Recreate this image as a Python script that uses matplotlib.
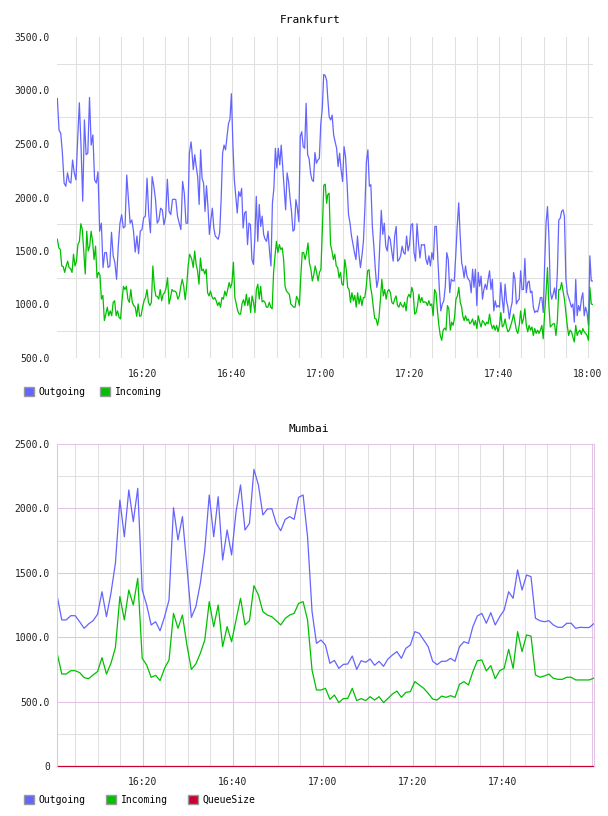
import numpy as np
import matplotlib
matplotlib.use('Agg')
import matplotlib.pyplot as plt
from matplotlib.patches import Patch
from matplotlib.ticker import MultipleLocator, FuncFormatter

# Frankfurt samples come in four stretches, times are minutes after 16:00
fra_spans = [(0.75, 30.8), (30.97, 61.27), (61.5, 91.61), (91.84, 121.05)]

fra_out_1 = [2925, 2630, 2600, 2414, 2135, 2105, 2230, 2150, 2135, 2350,
             2230, 2165, 2540, 2885, 2475, 1965, 2725, 2400, 2414, 2935,
             2490, 2585, 2165, 2135, 2240, 1685, 1760, 1345, 1485, 1485,
             1345, 1360, 1675, 1455, 1390, 1235, 1545, 1760, 1840, 1715,
             1730, 2210, 1980, 1760, 1790, 1685, 1490, 1640, 1475, 1685,
             1700, 1810, 1825, 2180, 1840, 1670, 2195, 2105, 1980, 1760,
             1790, 1900, 1885, 1745, 1825, 2170, 1870, 1840, 1980, 1985,
             1980, 1825, 1760, 1700, 2150, 2040, 1760, 1760, 2414, 2520]
fra_out_2 = [2445, 2260, 2400, 2290, 2195, 1935, 2445, 2180, 2135,
             1870, 2110, 1915, 1655, 1790, 1900, 1715, 1640, 1625, 1610,
             1670, 1980, 2414, 2490, 2445, 2570, 2690, 2730, 2970, 2505,
             2165, 2010, 1855, 2055, 2010, 2085, 1715, 1855, 1870, 1560,
             1760, 1745, 1420, 1375, 1625, 2010, 1590, 1935, 1730, 1825,
             1655, 1610, 1590, 1685, 1500, 1360, 1950, 2085, 2460, 2275,
             2460, 2305, 2490, 2290, 2105, 1885, 2230, 2150, 1995, 1870,
             1685, 1700, 1980, 1900, 1775, 2570, 2615, 2475, 2460, 2880,
             2400, 2365, 2230, 2165, 2150, 2420, 2320, 2350, 2365, 2690,
             2830, 3150, 3140, 3095]
fra_out_3 = [2940, 2755, 2725, 2770, 2585, 2520, 2460, 2290, 2414, 2260,
             2150, 2475, 2380, 2135, 1840, 1760, 1640, 1560, 1485, 1420,
             1640, 1470, 1345, 1455, 1590, 1900, 2335, 2445, 2105, 2120,
             1730, 1545, 1330, 1160, 1235, 1560, 1880, 1655, 1760, 1545,
             1500, 1640, 1610, 1500, 1405, 1640, 1730, 1405, 1420, 1455,
             1545, 1485, 1470, 1640, 1500, 1560, 1745, 1755, 1485, 1405,
             1755, 1575, 1435, 1560, 1555, 1560, 1420, 1375, 1455, 1360,
             1485, 1420, 1730, 1730, 1420, 1145, 940, 1005, 1035, 1170,
             1485, 1420, 1110, 1235, 1220, 1220, 1455, 1730, 1950, 1640,
             1390]
fra_out_4 = [1345, 1250, 1360, 1265, 1235, 1220, 1110, 1330, 1160, 1330,
             990, 1300, 1170, 1265, 1050, 1140, 1190, 1140, 1235, 1315,
             1140, 1235, 940, 1035, 975, 990, 975, 1205, 1050, 925,
             1190, 1035, 975, 865, 960, 1020, 1300, 1235, 1005, 1035,
             1050, 1315, 1140, 1140, 1430, 1110, 1205, 1220, 1110, 1125,
             975, 925, 940, 930, 990, 1065, 1065, 925, 1375, 1760,
             1915, 1640, 1125, 1050, 1095, 1155, 1050, 1300, 1790, 1805,
             1870, 1885, 1825, 1250, 1110, 1065, 1020, 975, 1005, 835,
             1235, 895, 990, 940, 1050, 1110, 895, 975, 925, 805,
             1455, 1220, 1220]

fra_in_1 = [1610, 1530, 1515, 1360, 1355, 1300, 1360, 1405, 1345, 1335,
            1300, 1470, 1360, 1405, 1560, 1590, 1755, 1700, 1485, 1285,
            1685, 1500, 1545, 1685, 1590, 1420, 1545, 1250, 1300, 1275,
            1050, 1085, 850, 910, 975, 895, 940, 895, 1020, 1035,
            895, 940, 880, 865, 1035, 1170, 1140, 1170, 1050, 1020,
            1140, 1020, 990, 975, 890, 1005, 890, 895, 975, 1035,
            1065, 1140, 1020, 990, 1020, 1360, 1170, 1080, 1075, 1050,
            1140, 1035, 1095, 1110, 1155, 1250, 1005, 1065, 1140, 1125,
            1125, 1110, 1050, 1080, 1170, 1235, 1170, 1045, 1170, 1360,
            1470, 1440]
fra_in_2 = [1420, 1345, 1500, 1375, 1315, 1190, 1435, 1315, 1330, 1285,
            1330, 1110, 1080, 1125, 1075, 1050, 1065, 1035, 990, 1020,
            975, 1065, 1050, 1125, 1080, 1140, 1205, 1155, 1205, 1395,
            1065, 1005, 940, 910, 910, 1005, 1045, 990, 1095, 990,
            1065, 925, 1080, 1020, 925, 1140, 1190, 1050, 1170, 1025,
            1035, 1020, 975, 975, 1020, 975, 960, 1300, 1455, 1590,
            1485, 1560, 1515, 1530, 1420, 1170, 1125, 1110, 1095, 1005,
            990, 975, 975, 1075, 1050, 990, 1270, 1485, 1485, 1420,
            1485, 1575, 1385, 1330, 1220, 1275, 1360, 1300, 1220, 1300,
            1330, 1700, 2115, 2125, 1945]
fra_in_3 = [2025, 2040, 1560, 1500, 1420, 1470, 1360, 1345, 1250, 1300,
            1190, 1180, 1420, 1330, 1160, 1140, 1020, 1110, 1035, 1085,
            975, 1110, 1005, 1080, 990, 1065, 1065, 1160, 1315, 1325,
            1170, 1095, 975, 870, 865, 805, 880, 1050, 1235, 1080,
            1140, 1050, 1125, 1140, 1110, 1020, 1005, 1050, 1080, 990,
            975, 1020, 990, 975, 1020, 940, 1065, 1095, 1065, 1160,
            1110, 910, 925, 990, 1095, 1020, 1065, 1020, 1025, 1020,
            990, 1035, 990, 1005, 895, 1140, 1110, 940, 805, 710,
            665, 760, 780, 760, 990, 960, 760, 835, 805, 880,
            1050, 1080, 1160, 1020, 975]
fra_in_4 = [895, 850, 895, 850, 865, 820, 835, 865, 805, 850,
            775, 895, 835, 790, 850, 835, 805, 835, 820, 910,
            820, 775, 805, 760, 805, 745, 805, 925, 790, 805,
            865, 790, 745, 760, 805, 850, 910, 835, 760, 730,
            805, 940, 820, 865, 960, 805, 745, 805, 760, 790,
            710, 775, 730, 760, 730, 760, 805, 680, 925, 1110,
            1345, 990, 790, 805, 820, 820, 710, 850, 1140, 1140,
            1205, 1125, 1050, 925, 805, 710, 760, 745, 695, 650,
            805, 710, 745, 760, 720, 775, 745, 730, 710, 665,
            1160, 1005, 1000]

# Mumbai: one sample per minute
mum_span = (0.96, 120.25)
mum_out = [1315, 1134, 1134, 1167, 1167, 1120, 1069, 1103, 1128, 1178,
           1353, 1159, 1341, 1574, 2065, 1780, 2143, 1897, 2156, 1366,
           1250, 1095, 1120, 1050, 1159, 1289, 2005, 1755, 1936, 1547,
           1154, 1237, 1418, 1677, 2104, 1780, 2091, 1599, 1832, 1638,
           1975, 2182, 1832, 1884, 2303, 2182, 1949, 1995, 1998, 1884,
           1827, 1915, 1936, 1915, 2086,
           2104, 1780, 1200, 952, 978, 939, 797, 820, 758, 789,
           792, 854, 750, 818, 805, 831, 782, 813, 774, 831,
           862, 888, 836, 914, 939, 1043, 1030, 978, 926, 813,
           787, 813, 813, 836, 813, 926, 965, 952, 1082, 1165,
           1185, 1108, 1190, 1095, 1159, 1211, 1353, 1302, 1522, 1366,
           1483, 1470, 1147, 1128, 1120, 1128, 1095, 1077, 1077, 1108,
           1108, 1069, 1077, 1075, 1075, 1103]
mum_in = [870, 714, 714, 740, 740, 725, 686, 678, 707, 733,
          841, 714, 797, 919, 1315, 1134, 1366, 1250, 1457, 836,
          784, 688, 704, 663, 758, 823, 1185, 1069, 1172, 939,
          750, 792, 875, 978, 1276, 1082, 1250, 926, 1082, 965,
          1134, 1302, 1095, 1128, 1400, 1328, 1198, 1172, 1159, 1128,
          1095, 1146, 1172, 1185, 1263,
          1276, 1134, 745, 590, 590, 603, 518, 551, 492, 523,
          525, 603, 508, 523, 508, 538, 512, 538, 492, 525,
          559, 582, 533, 572, 577, 655, 629, 603, 564, 520,
          512, 543, 533, 546, 533, 634, 655, 629, 732, 818,
          823, 738, 779, 678, 740, 758, 906, 758, 1043, 888,
          1017, 1009, 707, 689, 699, 714, 681, 673, 673, 689,
          689, 668, 668, 668, 668, 681]
mum_queue = [0] * 121

COL_OUT = '#6464ff'
COL_IN = '#00c000'
COL_Q = '#cc0033'
GRID = '#e0e0e0'
PINK = '#e4c4e4'
MONO = 'DejaVu Sans Mono'
GRID_LW = 0.75

plt.rcParams['font.family'] = MONO


def hhmm(m, pos):
    m = int(round(m))
    return f"{16 + m // 60}:{m % 60:02d}"


def hhmm_no_end(m, pos):
    # the Mumbai panel stops right at 18:00 and shows no label there
    return '' if m >= 120 else hhmm(m, pos)


def yfmt(v, pos):
    return '0' if v == 0 else f'{v:.1f}'


def seg_times(spans, parts):
    return np.concatenate([np.linspace(a, b, len(p)) for (a, b), p in zip(spans, parts)])


def base_axes(ax, ylo, yhi, xlo, xhi):
    ax.set_xlim(xlo, xhi)
    ax.set_ylim(ylo, yhi)
    ax.xaxis.set_major_locator(MultipleLocator(20))
    ax.xaxis.set_minor_locator(MultipleLocator(5))
    ax.yaxis.set_major_locator(MultipleLocator(500))
    ax.yaxis.set_minor_locator(MultipleLocator(250))
    ax.xaxis.set_major_formatter(FuncFormatter(hhmm))
    ax.yaxis.set_major_formatter(FuncFormatter(yfmt))
    ax.tick_params(which='both', length=0, labelsize=7, colors='#222222')
    ax.tick_params(axis='x', pad=8)
    ax.tick_params(axis='y', pad=5)
    ax.set_axisbelow(True)


fig = plt.figure(figsize=(6.08, 8.16), dpi=100)

# Frankfurt
ax1 = fig.add_axes([57 / 608, 1 - 358 / 816, 536 / 608, 321 / 816])
base_axes(ax1, 500, 3500, 0.674, 121.12)
for s in ax1.spines.values():
    s.set_visible(False)
ax1.xaxis.grid(True, which='both', color=GRID, lw=GRID_LW)
ax1.yaxis.grid(True, which='minor', color=GRID, lw=GRID_LW)

t_fra = seg_times(fra_spans, [fra_out_1, fra_out_2, fra_out_3, fra_out_4])
ax1.plot(t_fra, fra_out_1 + fra_out_2 + fra_out_3 + fra_out_4, color=COL_OUT, lw=0.9)
t_fra_in = seg_times(fra_spans, [fra_in_1, fra_in_2, fra_in_3, fra_in_4])
ax1.plot(t_fra_in, fra_in_1 + fra_in_2 + fra_in_3 + fra_in_4, color=COL_IN, lw=0.9)

fig.text(310 / 608, 1 - 20 / 816, 'Frankfurt', ha='center', va='center', fontsize=8)

# Mumbai
ax2 = fig.add_axes([57 / 608, 1 - 766 / 816, 537 / 608, 322 / 816])
base_axes(ax2, 0, 2500, 0.89, 120.35)
ax2.xaxis.set_major_formatter(FuncFormatter(hhmm_no_end))
for side in ['left', 'top', 'right']:
    ax2.spines[side].set_color(PINK)
    ax2.spines[side].set_linewidth(GRID_LW)
ax2.spines['bottom'].set_visible(False)
ax2.xaxis.grid(True, which='minor', color=GRID, lw=GRID_LW)
ax2.yaxis.grid(True, which='minor', color=GRID, lw=GRID_LW)
ax2.xaxis.grid(True, which='major', color=PINK, lw=GRID_LW)
ax2.yaxis.grid(True, which='major', color=PINK, lw=GRID_LW)

t_mum = np.linspace(mum_span[0], mum_span[1], len(mum_out))
ax2.plot(t_mum, mum_out, color=COL_OUT, lw=0.9)
ax2.plot(t_mum, mum_in, color=COL_IN, lw=0.9)
ax2.plot(t_mum, mum_queue, color=COL_Q, lw=0.9, clip_on=False)

fig.text(309 / 608, 1 - 429 / 816, 'Mumbai', ha='center', va='center', fontsize=8)


def legend_at(y, names, colors, spacing):
    handles = [Patch(facecolor=c, edgecolor='#999999', lw=1) for c in colors]
    fig.legend(handles, names, loc='center left', bbox_to_anchor=(24 / 608, 1 - y / 816),
               ncol=len(names), frameon=False, borderpad=0, borderaxespad=0,
               handlelength=1.0, handleheight=1.0, handletextpad=0.5,
               columnspacing=spacing, prop={'family': MONO, 'size': 7})


legend_at(392, ['Outgoing', 'Incoming'], [COL_OUT, COL_IN], 1.5)
legend_at(800, ['Outgoing', 'Incoming', 'QueueSize'], [COL_OUT, COL_IN, COL_Q], 2.1)

fig.savefig('out.png', dpi=100)
